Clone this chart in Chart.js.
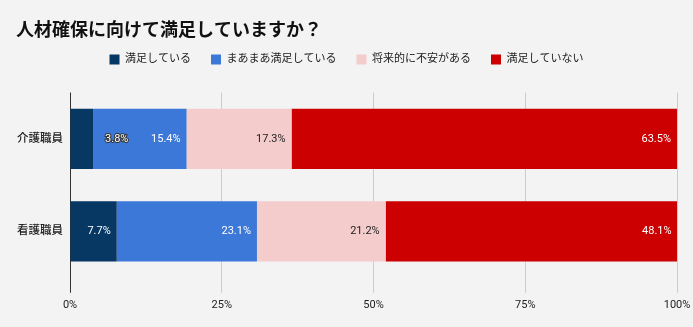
<!DOCTYPE html>
<html>
<head>
<meta charset="utf-8">
<script src="https://cdn.jsdelivr.net/npm/chart.js@4"></script>
<style>
  html, body { margin: 0; padding: 0; background: #f3f3f3; }
  #wrap { width: 693px; height: 327px; }
</style>
</head>
<body>
<div id="wrap"><canvas id="chart"></canvas></div>
<script>
const categories = ['介護職員', '看護職員'];
const seriesNames = ['満足している', 'まあまあ満足している', '将来的に不安がある', '満足していない'];
const satisfied = [3.8, 7.7];
const fairlySatisfied = [15.4, 23.1];
const worried = [17.3, 21.2];
const notSatisfied = [63.5, 48.1];
const xTicks = [0, 25, 50, 75, 100];

const colors = ['#073763', '#3c78d8', '#f4cccc', '#cc0000'];
const labelColors = ['#ffffff', '#ffffff', '#222222', '#ffffff'];
const FONT = "Roboto, 'Noto Sans CJK JP', sans-serif";

// give the legend a fixed height so the plot starts where the original does
const legendHeight = {
  id: 'legendHeight',
  beforeInit(chart) {
    const fit = chart.legend.fit;
    chart.legend.fit = function () {
      fit.call(this);
      this.height = 58.5;
    };
  }
};

// value labels at the end of each segment
const barLabels = {
  id: 'barLabels',
  afterDatasetsDraw(chart) {
    const ctx = chart.ctx;
    ctx.save();
    ctx.font = '11px ' + FONT;
    ctx.textBaseline = 'middle';
    chart.data.datasets.forEach((ds, i) => {
      const meta = chart.getDatasetMeta(i);
      meta.data.forEach((bar, j) => {
        const text = ds.data[j].toFixed(1) + '%';
        const w = ctx.measureText(text).width;
        if (w + 10 < bar.x - bar.base) {
          ctx.textAlign = 'right';
          ctx.fillStyle = labelColors[i];
          ctx.fillText(text, bar.x - 6, bar.y);
        } else {
          ctx.textAlign = 'left';
          ctx.lineWidth = 2;
          ctx.strokeStyle = '#333333';
          ctx.strokeText(text, bar.x + 12, bar.y);
          ctx.fillStyle = '#ffffff';
          ctx.fillText(text, bar.x + 12, bar.y);
        }
      });
    });
    ctx.restore();
  }
};

new Chart(document.getElementById('chart'), {
  type: 'bar',
  data: {
    labels: categories,
    datasets: [satisfied, fairlySatisfied, worried, notSatisfied].map((d, i) => ({
      label: seriesNames[i],
      data: d,
      backgroundColor: colors[i],
      borderWidth: 0,
      barPercentage: 0.65,
      categoryPercentage: 1
    }))
  },
  options: {
    indexAxis: 'y',
    responsive: true,
    maintainAspectRatio: false,
    animation: false,
    layout: { padding: { left: 16, right: 16, top: 0, bottom: 9 } },
    plugins: {
      title: {
        display: true,
        text: '人材確保に向けて満足していますか？',
        align: 'start',
        color: '#111111',
        font: { family: FONT, size: 18, weight: 'bold', lineHeight: 1 },
        padding: { top: 22, bottom: -6 }
      },
      legend: {
        position: 'top',
        labels: {
          boxWidth: 10,
          boxHeight: 10,
          padding: 20,
          color: '#222222',
          font: { family: FONT, size: 11 }
        }
      },
      tooltip: { enabled: false }
    },
    scales: {
      x: {
        stacked: true,
        min: 0,
        max: 100,
        afterBuildTicks(axis) { axis.ticks = xTicks.map(v => ({ value: v })); },
        afterFit(axis) { axis.paddingRight = 0; axis.paddingLeft = 0; },
        grid: {
          color: c => c.index === 0 ? '#333333' : '#cccccc',
          tickLength: 15,
          drawTicks: true
        },
        border: { display: false },
        ticks: {
          color: '#222222',
          padding: 6,
          font: { family: FONT, size: 11 },
          callback: v => v + '%'
        }
      },
      y: {
        stacked: true,
        afterFit(axis) { axis.width = 54; },
        grid: { display: false, drawTicks: false, tickLength: 0 },
        border: { display: false },
        ticks: {
          color: '#222222',
          padding: 7,
          font: { family: FONT, size: 11.5, weight: '500' }
        }
      }
    }
  },
  plugins: [legendHeight, barLabels]
});
</script>
</body>
</html>
